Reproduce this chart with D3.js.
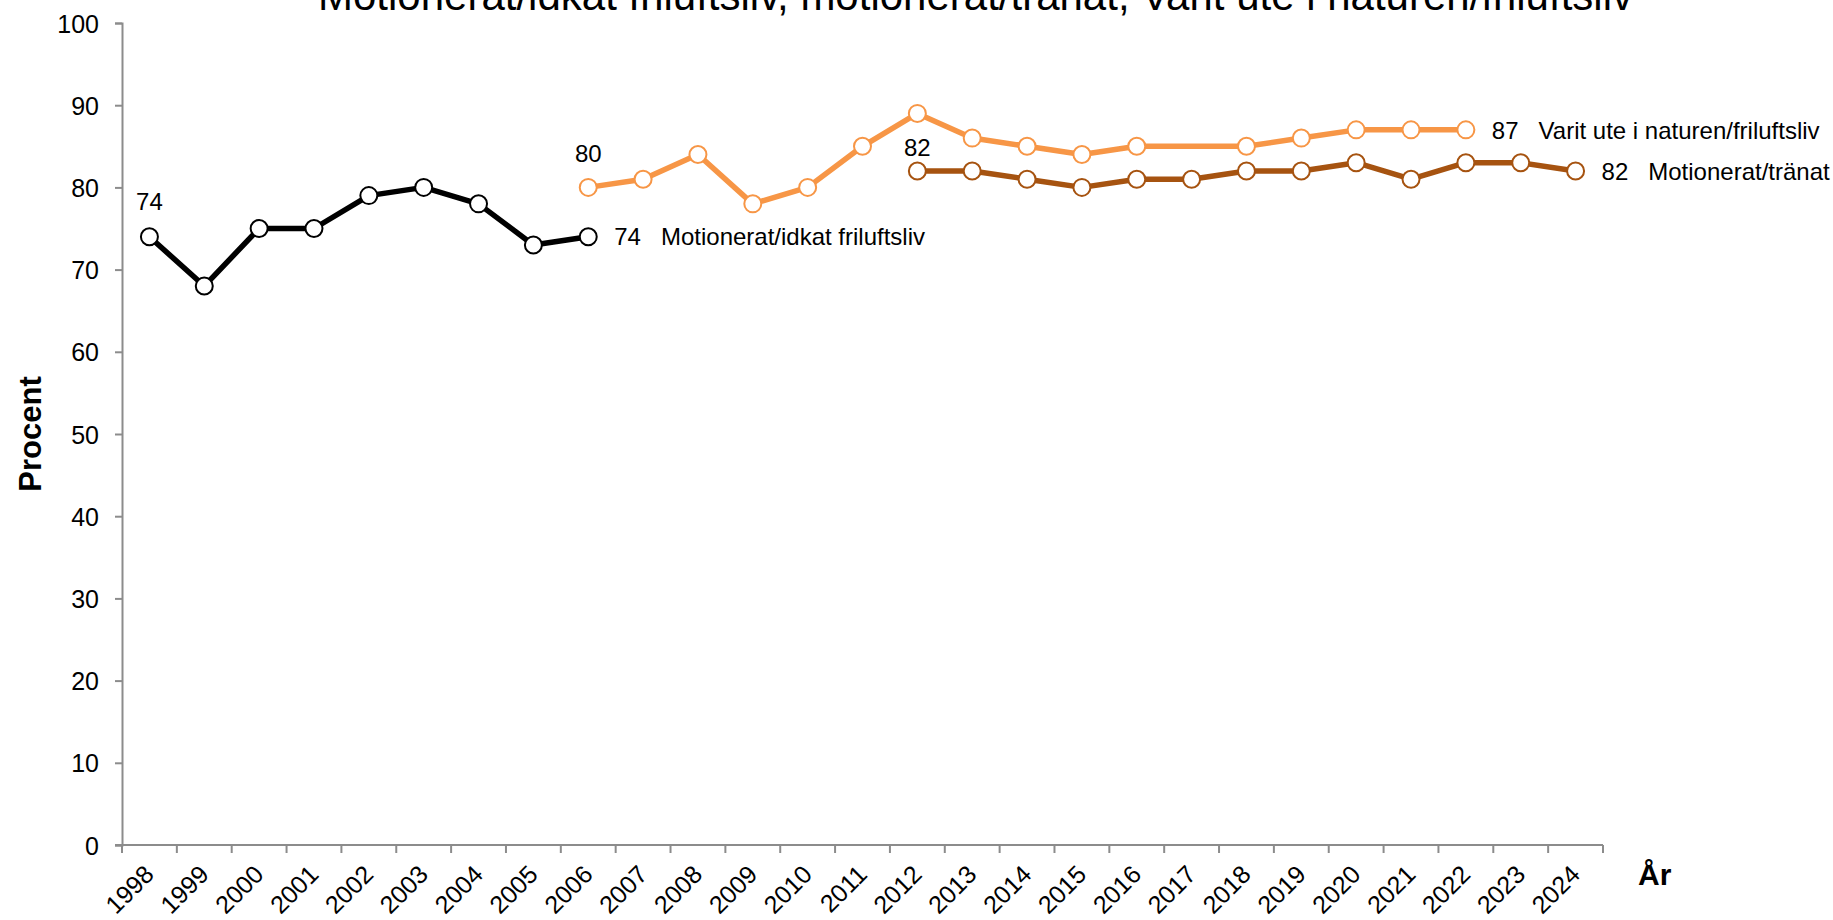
<!DOCTYPE html>
<html>
<head>
<meta charset="utf-8">
<script src="https://cdn.jsdelivr.net/npm/d3@7"></script>
<style>
  body { margin: 0; background: #fff; }
  svg text { font-family: Arial, "Liberation Sans", sans-serif; fill: #000; }
</style>
</head>
<body>
<div id="div1"></div>
<script>

// data, one value per year (null = not measured)
let years = ["1998","1999","2000","2001","2002","2003","2004","2005","2006","2007","2008","2009","2010",
             "2011","2012","2013","2014","2015","2016","2017","2018","2019","2020","2021","2022","2023","2024"]

let motionFriluftsliv = [74,68,75,75,79,80,78,73,74,
                         null,null,null,null,null,null,null,null,null,null,null,null,null,null,null,null,null,null]

let variUteNaturen = [null,null,null,null,null,null,null,null,
                      80,81,84,78,80,85,89,86,85,84,85,null,85,86,87,87,87,null,null]

let motionTranat = [null,null,null,null,null,null,null,null,null,null,null,null,null,null,
                    82,82,81,80,81,81,82,82,83,81,83,83,82]

let seriesNames = ["Motionerat/idkat friluftsliv", "Varit ute i naturen/friluftsliv", "Motionerat/tränat"]
let yTicks = [0,10,20,30,40,50,60,70,80,90,100]

let title = "Motionerat/idkat friluftsliv, motionerat/tränat, Varit ute i naturen/friluftsliv"

let series = [
  { name: seriesNames[0], values: motionFriluftsliv, color: "#000000", firstDy: -27 },
  { name: seriesNames[1], values: variUteNaturen,    color: "#F79646", firstDy: -25 },
  { name: seriesNames[2], values: motionTranat,      color: "#A65310", firstDy: -15 }
]

let width = 1833, height = 920

let svg = d3.select("#div1").append("svg")
svg.attr("width", width)
svg.attr("height", height)

let xScale = d3.scaleBand()
               .domain(years)
               .range([122, 1603])
let yScale = d3.scaleLinear()
               .domain([0, 100])
               .range([845, 23])

let axisColor = "#8c8c8c"

// y axis
let yAxis = svg.append("g")
   .attr("transform", "translate(122,0)")
   .call(d3.axisLeft(yScale).tickValues(yTicks).tickSize(7).tickPadding(16))
yAxis.selectAll("text").style("font-size", "25px").attr("dy", "0.36em")
yAxis.selectAll("line").attr("stroke", axisColor).attr("stroke-width", 2)
yAxis.select(".domain").attr("stroke", axisColor).attr("stroke-width", 2)

// x axis: ticks between categories
let xAxis = svg.append("g")
   .attr("transform", "translate(0,845)")
xAxis.append("line")
   .attr("x1", 115).attr("x2", 1603)
   .attr("stroke", axisColor).attr("stroke-width", 2)
xAxis.selectAll(".xtick")
   .data(d3.range(years.length + 1))
   .enter()
   .append("line")
   .attr("x1", i => 122 + i * xScale.step())
   .attr("x2", i => 122 + i * xScale.step())
   .attr("y1", 0).attr("y2", 8)
   .attr("stroke", axisColor).attr("stroke-width", 2)

svg.selectAll(".xlabel")
   .data(years)
   .enter()
   .append("text")
   .attr("class", "xlabel")
   .attr("transform", d => "translate(" + (xScale(d) + xScale.bandwidth() / 2 + 6) + ",876) rotate(-45)")
   .attr("text-anchor", "end")
   .style("font-size", "25px")
   .text(d => d)

// lines and markers
let cx = function(i) { return xScale(years[i]) + xScale.bandwidth() / 2 }

let line = d3.line()
   .x(d => cx(d.i))
   .y(d => yScale(d.v))

series.forEach(function(s) {
  let pts = s.values.map((v, i) => ({ v: v, i: i })).filter(d => d.v != null)

  svg.append("path")
     .datum(pts)
     .attr("d", line)
     .attr("fill", "none")
     .attr("stroke", s.color)
     .attr("stroke-width", 5.5)
     .attr("stroke-linejoin", "round")

  svg.selectAll(null)
     .data(pts)
     .enter()
     .append("circle")
     .attr("cx", d => cx(d.i))
     .attr("cy", d => yScale(d.v))
     .attr("r", 8.5)
     .style("fill", "white")
     .style("stroke", s.color)
     .style("stroke-width", 2)

  let first = pts[0], last = pts[pts.length - 1]

  svg.append("text")
     .attr("x", cx(first.i))
     .attr("y", yScale(first.v) + s.firstDy)
     .attr("text-anchor", "middle")
     .style("font-size", "24px")
     .text(first.v)

  let endLabel = svg.append("text")
     .attr("x", cx(last.i) + 26)
     .attr("y", yScale(last.v))
     .attr("dy", "0.36em")
     .style("font-size", "24px")
  endLabel.append("tspan").text(last.v)
  endLabel.append("tspan").attr("dx", 20).text(s.name)
})

// titles
svg.append("text")
   .attr("x", 318)
   .attr("y", 10)
   .style("font-size", "42px")
   .text(title)

svg.append("text")
   .attr("transform", "translate(41,434) rotate(-90)")
   .attr("text-anchor", "middle")
   .style("font-size", "31px")
   .style("font-weight", "bold")
   .text("Procent")

svg.append("text")
   .attr("x", 1638)
   .attr("y", 885)
   .style("font-size", "30px")
   .style("font-weight", "bold")
   .text("År")

</script>
</body>
</html>
